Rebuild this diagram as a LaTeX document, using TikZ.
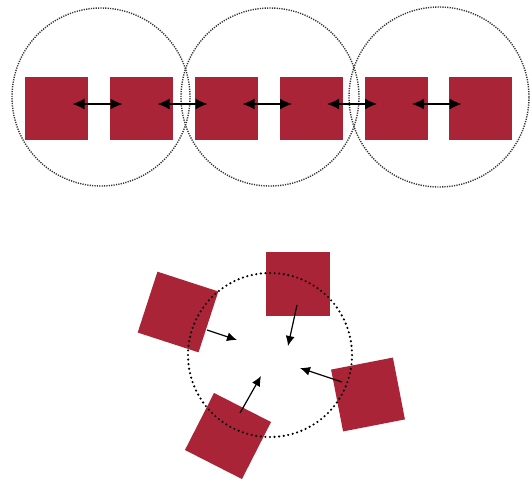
\documentclass[tikz,border=0pt]{standalone}
\usetikzlibrary{arrows.meta}
\definecolor{crim}{RGB}{170,36,56}
\begin{document}
\begin{tikzpicture}[x=1pt,y=-1pt,
  sq/.style={fill=crim,draw=none,minimum size=63pt,inner sep=0pt,outer sep=0pt},
  ring/.style={draw=black!80,line width=1.4pt,dash pattern=on 1.2pt off 1.2pt},
  ringb/.style={draw=black,line width=2.4pt,line cap=round,dash pattern=on 0pt off 4.6pt},
  dbl/.style={line width=1.3pt,{Latex[length=12pt,width=11pt]}-{Latex[length=12pt,width=11pt]}},
  sgl/.style={line width=1.2pt,-{Latex[length=10pt,width=9pt]}}]
\useasboundingbox (0,0) rectangle (532,482);
% top row squares
\foreach \i/\x in {1/56.5,2/141.5,3/226.5,4/311,5/396,6/480.5}
  \node[sq] (s\i) at (\x,108.5) {};
% rings
\node[ring,circle,minimum size=178pt,inner sep=0pt] (c1) at (101,97) {};
\node[ring,circle,minimum size=178pt,inner sep=0pt] (c2) at (270,97) {};
\node[ring,circle,minimum size=180pt,inner sep=0pt] (c3) at (439,97) {};
% arrow endpoints
\foreach \i/\j in {1/2,2/3,3/4,4/5,5/6}{
  \coordinate (a\i) at ([xshift=16pt,yshift=4.5pt]s\i.center);
  \coordinate (b\j) at ([xshift=-19pt,yshift=4.5pt]s\j.center);
  \draw[dbl] (a\i) -- (b\j);
}
% bottom
\node[sq,minimum size=64pt] (t) at (297.5,284) {};
\node[sq,minimum size=64pt,rotate=-18] (l) at (178,312) {};
\node[sq,minimum size=63pt,rotate=11] (r) at (368,394.5) {};
\node[sq,minimum size=64pt,rotate=-27] (b) at (228,436) {};
\node[ringb,circle,minimum size=164pt,inner sep=0pt] (cb) at (270,355) {};
\coordinate (te) at (288,346);
\coordinate (le) at (237,340);
\coordinate (re) at (300,368);
\coordinate (be) at (261,376);
\draw[sgl] ([shift={(-0.5pt,-21pt)}]t.center) -- (te);
\draw[sgl] ([shift={(29pt,-18pt)}]l.center) -- (le);
\draw[sgl] ([shift={(-26pt,12.5pt)}]r.center) -- (re);
\draw[sgl] ([shift={(12pt,23pt)}]b.center) -- (be);
\end{tikzpicture}
\end{document}
